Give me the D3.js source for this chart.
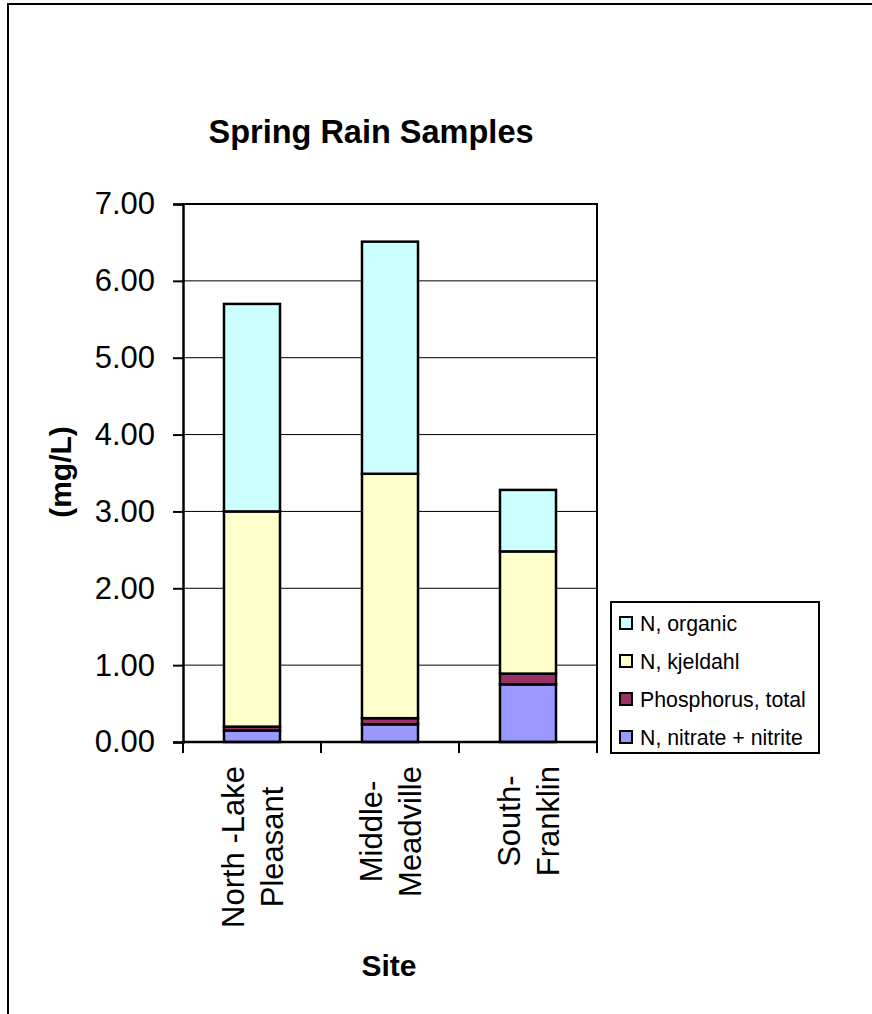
<!DOCTYPE html>
<html>
<head>
<meta charset="utf-8">
<script src="https://cdn.jsdelivr.net/npm/d3@7"></script>
<style>
html,body{margin:0;padding:0;background:#fff;}
svg{display:block;font-family:"Liberation Sans",Arial,sans-serif;}
</style>
</head>
<body>
<svg id="chart" width="872" height="1014"></svg>
<script>
const categories = [["North -Lake","Pleasant"],["Middle-","Meadville"],["South-","Franklin"]];
const seriesNames = ["N, nitrate + nitrite","Phosphorus, total","N, kjeldahl","N, organic"];
const seriesColors = ["#9999FF","#993366","#FFFFCC","#CCFFFF"];
const nitrate = [0.15, 0.23, 0.75];
const phosphorus = [0.05, 0.08, 0.14];
const kjeldahl = [2.80, 3.18, 1.59];
const organic = [2.70, 3.02, 0.80];
const yTicks = [0,1,2,3,4,5,6,7];
const titleText = "Spring Rain Samples";
const yTitle = "(mg/L)";
const xTitle = "Site";

const svg = d3.select("#chart");
const plot = {left:183, right:597, top:204, bottom:742};

// outer chart border (extends beyond visible area on right/bottom)
svg.append("rect").attr("x",8).attr("y",4).attr("width",1000).attr("height",1200)
  .attr("fill","#fff").attr("stroke","#000").attr("stroke-width",2);

const catKeys = categories.map(c=>c.join(" "));
const x = d3.scaleBand().domain(catKeys).range([plot.left, plot.right])
  .paddingInner(0.594).paddingOuter(0.297);
const y = d3.scaleLinear().domain([0,7]).range([plot.bottom, plot.top]);

// gridlines
svg.append("g").selectAll("line").data(yTicks.filter(t=>t>0 && t<7)).join("line")
  .attr("x1",plot.left).attr("x2",plot.right)
  .attr("y1",d=>y(d)).attr("y2",d=>y(d))
  .attr("stroke","#000").attr("stroke-width",1);

// stacked data
const rows = catKeys.map((k,i)=>({key:k, s0:nitrate[i], s1:phosphorus[i], s2:kjeldahl[i], s3:organic[i]}));
const stack = d3.stack().keys(["s0","s1","s2","s3"]);
const stacked = stack(rows);

const bars = svg.append("g");
stacked.forEach((layer,li)=>{
  bars.append("g").selectAll("rect").data(layer).join("rect")
    .attr("x",d=>x(d.data.key))
    .attr("width",x.bandwidth())
    .attr("y",d=>y(d[1]))
    .attr("height",d=>y(d[0])-y(d[1]))
    .attr("fill",seriesColors[li])
    .attr("stroke","#000").attr("stroke-width",2.5);
});

// plot area frame (top & right)
svg.append("path")
  .attr("d",`M${plot.left},${plot.top}H${plot.right}V${plot.bottom}`)
  .attr("fill","none").attr("stroke","#000").attr("stroke-width",2);

// y axis
const yAxis = d3.axisLeft(y).tickValues(yTicks).tickFormat(d3.format(".2f")).tickSize(10).tickPadding(18);
const gy = svg.append("g").attr("transform",`translate(${plot.left},0)`).call(yAxis);
gy.select(".domain").attr("stroke","#000").attr("stroke-width",2.5);
gy.selectAll(".tick line").attr("stroke","#000").attr("stroke-width",2);
gy.selectAll(".tick text").attr("font-size",31).attr("fill","#000")
  .attr("font-family","'Liberation Sans',Arial,sans-serif");

// x axis line and boundary ticks
svg.append("line").attr("x1",plot.left).attr("x2",plot.right)
  .attr("y1",plot.bottom).attr("y2",plot.bottom)
  .attr("stroke","#000").attr("stroke-width",2.5);
const bounds = d3.range(catKeys.length+1).map(i=>x.range()[0] + i*x.step());
svg.append("g").selectAll("line").data(bounds).join("line")
  .attr("x1",d=>d).attr("x2",d=>d)
  .attr("y1",plot.bottom).attr("y2",plot.bottom+11)
  .attr("stroke","#000").attr("stroke-width",2);

// category labels, rotated
const labelTop = 766;
const lineGap = 39;
categories.forEach((lines,i)=>{
  const cx = x(catKeys[i]) + x.bandwidth()/2;
  const g = svg.append("g");
  const texts = lines.map((ln,j)=>g.append("text").text(ln)
      .attr("font-size",31).attr("fill","#000").attr("text-anchor","middle"));
  const maxLen = d3.max(texts, t=>t.node().getComputedTextLength());
  const cy = labelTop + maxLen/2;
  const n = lines.length;
  texts.forEach((t,j)=>{
    const baseX = cx + (j-(n-1)/2)*lineGap + 11;
    t.attr("transform",`translate(${baseX},${cy}) rotate(-90)`);
  });
});

// title
svg.append("text").attr("x",371).attr("y",143).attr("text-anchor","middle")
  .attr("font-size",32.5).attr("font-weight","bold").text(titleText);

// y title
svg.append("text").attr("transform","translate(71,472) rotate(-90)").attr("text-anchor","middle")
  .attr("font-size",30).attr("font-weight","bold").text(yTitle);

// x title
svg.append("text").attr("x",389).attr("y",976).attr("text-anchor","middle")
  .attr("font-size",30).attr("font-weight","bold").text(xTitle);

// legend
const lg = svg.append("g");
lg.append("rect").attr("x",611).attr("y",602).attr("width",208).attr("height",151)
  .attr("fill","#fff").attr("stroke","#000").attr("stroke-width",2);
const legendOrder = [3,2,1,0];
const rowY = [623,661,699,737];
legendOrder.forEach((si,r)=>{
  lg.append("rect").attr("x",620).attr("y",rowY[r]-6).attr("width",12).attr("height",12)
    .attr("fill",seriesColors[si]).attr("stroke","#000").attr("stroke-width",2);
  lg.append("text").attr("x",640).attr("y",rowY[r]+7.5).attr("font-size",21.3).attr("fill","#000")
    .text(seriesNames[si]);
});
</script>
</body>
</html>
